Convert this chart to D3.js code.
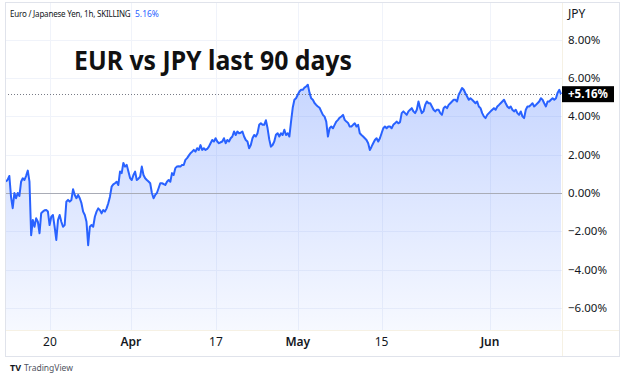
<!DOCTYPE html>
<html>
<head>
<meta charset="utf-8">
<script src="https://cdn.jsdelivr.net/npm/d3@7"></script>
<style>
  body { margin: 0; background: #fff; }
  svg text { font-family: "Noto Sans", "DejaVu Sans", sans-serif; }
</style>
</head>
<body>
<div id="chart"></div>
<script>
// EUR/JPY % change, sampled roughly every 4-5 hours over the period
const pct = [
  0.59, 0.70, 0.89, -0.2, -0.79, 0.0, -0.27, 0.0, -0.15, 0.59, 0.77, 0.68, 0.9, 1.17, 0.6, -2.2,
  -1.41, -1.76, -1.32, -1.5, -2.1, -1.05, -0.97, -0.9, -0.89, -0.97, -1.67, -1.24, -1.15, -1.76, -2.45,
  -1.41, -1.15, -1.5, -1.76, -1.67, -0.45, -0.36, -0.45, -0.36, 0.2, -0.1, -0.27, -0.1, -0.27, -0.53,
  -0.97, -1.15, -1.5, -2.72, -1.76, -1.67, -1.76, -1.24, -0.97, -0.8, -0.89, -1.06, -0.89, -0.97, -0.8,
  -0.53, -0.19, 0.33, 0.45, 0.51, 0.59, 0.42, 1.12, 1.04, 1.57, 1.38, 1.47, 1.12, 0.78, 0.68, 0.94,
  1.12, 0.68, 0.75, 0.85,
  1.38, 0.94, 0.77, 0.68, 0.6, 0.51, 0.0, -0.27, -0.1, 0.0, 0.25, 0.51, 0.51, 0.47, 0.42, 0.59, 0.68,
  0.59, 1.04, 0.94, 1.3, 1.38, 1.4, 1.38, 1.47, 1.46, 1.73, 1.82, 1.95, 2.08, 2.16, 2.25, 2.16, 2.34,
  2.25, 2.5, 2.25, 2.34, 2.25, 2.3, 2.42, 2.6, 2.77, 2.69, 2.86, 2.69, 2.6, 2.65, 2.69, 2.86, 2.6, 2.77,
  2.69, 2.86, 2.95, 3.21, 3.03, 3.21, 3.12, 3.15, 3.21, 2.95, 2.77, 2.69, 2.34, 2.51, 2.86, 3.03, 2.95,
  3.12, 3.56, 3.64, 3.56, 3.56, 3.8, 3.38, 2.8,
  2.42, 2.51, 2.69, 3.04, 3.12, 2.95, 3.12, 3.03, 3.3, 3.03, 3.12, 2.95, 3.73, 4.45, 4.87, 4.95, 5.13,
  5.3, 5.39, 5.39, 5.5, 5.56, 5.65, 5.24, 4.95, 4.87, 4.7, 4.6, 4.52, 4.45, 4.26, 4.08, 3.99, 3.73, 2.95,
  3.38, 3.47, 3.38, 3.56, 3.73, 3.82, 3.93, 4.0, 4.08, 3.82, 3.73, 3.66, 3.47, 3.47, 3.56, 3.64, 3.47,
  3.56, 3.12, 3.03, 2.95, 2.86, 2.77, 2.6, 2.25, 2.42, 2.6, 2.77, 2.86, 2.69, 2.86, 3.12, 3.38, 3.47,
  3.38, 3.47, 3.47, 3.38, 3.56, 3.64, 3.73, 3.64, 3.7,
  4.17, 4.26, 4.17, 4.08, 4.26, 4.35, 4.43, 4.26, 4.17, 4.35, 4.78, 4.43, 4.17, 4.26, 4.6, 4.78, 4.69,
  4.69, 4.52, 4.35, 4.26, 4.35, 4.35, 4.17, 4.08, 4.43, 4.52, 4.43, 4.6, 4.69, 4.78, 4.87, 4.87, 4.78,
  5.13, 5.3, 5.48, 5.39, 5.21, 5.04, 4.87, 4.95, 4.87, 4.78, 4.69, 4.78, 4.52, 4.43, 4.17, 4.0, 3.91,
  4.08, 4.17, 4.26, 4.35, 4.43, 4.35, 4.52, 4.6, 4.69, 4.78, 4.87, 4.69, 4.52, 4.43, 4.52, 4.35, 4.26,
  4.35, 4.17, 4.08, 4.26, 4.0, 3.91, 4.35, 4.52, 4.52, 4.6, 4.69, 4.52, 4.6, 4.69, 4.78, 4.95, 4.87,
  4.69, 4.52, 4.78, 4.78, 4.87, 4.95, 4.87, 4.95, 5.24, 5.39, 5.16
];

// x-axis labels and the sample index they sit on
const tickLabels = ['20', 'Apr', '17', 'May', '15', 'Jun'];
const tickIdx = [26.2, 74.5, 125.2, 174, 224, 288.6];
const monthLabels = ['Apr', 'May', 'Jun'];

const yTicks = [8, 6, 4, 2, 0, -2, -4, -6];
const lastPct = 5.16;

const width = 624;
const height = 379;
const plot = { left: 6, right: 561, top: 3, bottom: 330 };

const svg = d3.select('#chart')
    .append('svg')
    .attr('width', width)
    .attr('height', height);

const x = d3.scaleLinear()
    .domain([0, pct.length - 1])
    .range([plot.left, plot.right]);

const y = d3.scaleLinear()
    .domain([-7.15, 9.92])
    .range([plot.bottom, plot.top]);

// gradient for area
const defs = svg.append('defs');
const yTop = d3.min(pct, d => y(d));
const grad = defs.append('linearGradient')
    .attr('id', 'fillGrad')
    .attr('gradientUnits', 'userSpaceOnUse')
    .attr('x1', 0).attr('x2', 0)
    .attr('y1', yTop).attr('y2', plot.bottom);
grad.append('stop').attr('offset', '0%').attr('stop-color', '#2962ff').attr('stop-opacity', 0.26);
grad.append('stop').attr('offset', '100%').attr('stop-color', '#2962ff').attr('stop-opacity', 0.04);

// grid
svg.append('g')
    .selectAll('line')
    .data(yTicks)
    .join('line')
    .attr('x1', 5).attr('x2', plot.right + 1)
    .attr('y1', d => Math.round(y(d)) + 0.5)
    .attr('y2', d => Math.round(y(d)) + 0.5)
    .attr('stroke', '#f0f3fa');

svg.append('g')
    .selectAll('line')
    .data(tickIdx)
    .join('line')
    .attr('x1', d => Math.round(x(d)) + 0.5)
    .attr('x2', d => Math.round(x(d)) + 0.5)
    .attr('y1', 3).attr('y2', plot.bottom)
    .attr('stroke', '#f0f3fa');

// area + line
const area = d3.area()
    .x((d, i) => x(i))
    .y0(plot.bottom)
    .y1(d => y(d));

svg.append('path')
    .datum(pct)
    .attr('d', area)
    .attr('fill', 'url(#fillGrad)');

// zero line
svg.append('line')
    .attr('x1', 5).attr('x2', plot.right + 1)
    .attr('y1', Math.round(y(0)) + 0.5).attr('y2', Math.round(y(0)) + 0.5)
    .attr('stroke', '#a9acb6')
    .attr('stroke-width', 1.2);

// last value dotted line
svg.append('line')
    .attr('x1', 5).attr('x2', plot.right + 1)
    .attr('y1', Math.round(y(lastPct)) + 0.5).attr('y2', Math.round(y(lastPct)) + 0.5)
    .attr('stroke', '#787b86')
    .attr('stroke-dasharray', '1,2');

const line = d3.line()
    .x((d, i) => x(i))
    .y(d => y(d));

svg.append('path')
    .datum(pct)
    .attr('d', line)
    .attr('fill', 'none')
    .attr('stroke', '#2962ff')
    .attr('stroke-width', 2)
    .attr('stroke-linejoin', 'round');

// frame + separators
svg.append('rect')
    .attr('x', 5.5).attr('y', 2.5)
    .attr('width', 614).attr('height', 354)
    .attr('fill', 'none')
    .attr('stroke', '#e0e3eb');

svg.append('line')
    .attr('x1', plot.right + 1.5).attr('x2', plot.right + 1.5)
    .attr('y1', 3).attr('y2', 356)
    .attr('stroke', '#f6f1e4');

svg.append('line')
    .attr('x1', 6).attr('x2', 619)
    .attr('y1', plot.bottom + 0.5).attr('y2', plot.bottom + 0.5)
    .attr('stroke', '#f6f1e4');

// y axis labels
svg.append('g')
    .selectAll('text')
    .data(yTicks)
    .join('text')
    .attr('x', 568)
    .attr('y', d => y(d) + 4)
    .attr('font-size', 11.5)
    .attr('fill', '#131722')
    .text(d => (d < 0 ? '\u2212' + Math.abs(d).toFixed(2) : d.toFixed(2)) + '%');

svg.append('text')
    .attr('x', 568).attr('y', 18)
    .attr('font-size', 12)
    .attr('fill', '#131722')
    .text('JPY');

// last value tag
const tagY = y(lastPct);
svg.append('rect')
    .attr('x', 562).attr('y', tagY - 8)
    .attr('width', 52).attr('height', 16)
    .attr('fill', '#000');
svg.append('text')
    .attr('x', 588).attr('y', tagY + 4)
    .attr('text-anchor', 'middle')
    .attr('font-size', 11.5)
    .attr('font-weight', 'bold')
    .attr('fill', '#fff')
    .text('+' + lastPct.toFixed(2) + '%');

// x axis labels
svg.append('g')
    .selectAll('text')
    .data(tickLabels)
    .join('text')
    .attr('x', (d, i) => x(tickIdx[i]))
    .attr('y', 346)
    .attr('text-anchor', 'middle')
    .attr('font-size', 12)
    .attr('font-weight', d => monthLabels.includes(d) ? 600 : 400)
    .attr('fill', '#131722')
    .text(d => d);

// header
svg.append('text')
    .attr('x', 10).attr('y', 17)
    .attr('font-size', 8)
    .attr('letter-spacing', -0.2)
    .attr('fill', '#131722')
    .text('Euro / Japanese Yen, 1h, SKILLING');
svg.append('text')
    .attr('x', 135).attr('y', 17)
    .attr('font-size', 8.5)
    .attr('fill', '#2962ff')
    .text(lastPct.toFixed(2) + '%');

// title
svg.append('text')
    .attr('x', 74).attr('y', 70)
    .attr('font-size', 27)
    .attr('font-weight', 'bold')
    .attr('fill', '#111')
    .attr('textLength', 278)
    .attr('lengthAdjust', 'spacingAndGlyphs')
    .text('EUR vs JPY last 90 days');

// footer logo
svg.append('text')
    .attr('x', 10).attr('y', 371)
    .attr('font-size', 9)
    .attr('font-weight', 'bold')
    .attr('fill', '#131722')
    .text('TV');
svg.append('text')
    .attr('x', 24).attr('y', 371)
    .attr('font-size', 8.5)
    .attr('fill', '#50535e')
    .text('TradingView');
</script>
</body>
</html>
